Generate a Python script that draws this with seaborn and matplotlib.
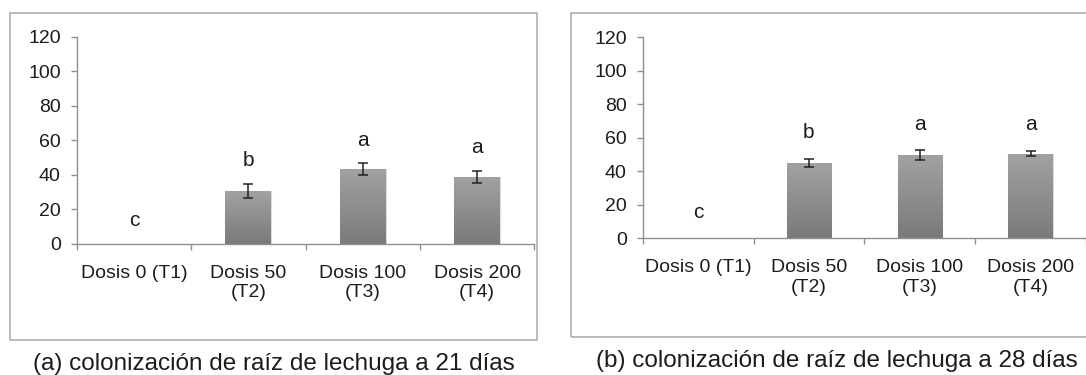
import numpy as np
import pandas as pd
import matplotlib
matplotlib.use("Agg")
import matplotlib.pyplot as plt
from matplotlib.patches import Rectangle
from matplotlib.ticker import FixedLocator, NullFormatter
import seaborn as sns

# Treatments and mean root colonization (%) with standard errors
categories = ["Dosis 0 (T1)", "Dosis 50\n(T2)", "Dosis 100\n(T3)", "Dosis 200\n(T4)"]
colon_21 = [0.0, 30.5, 43.2, 38.8]
err_21 = [0.0, 4.1, 3.5, 3.5]
colon_28 = [0.0, 45.2, 49.7, 50.6]
err_28 = [0.0, 2.4, 2.8, 1.7]
letters_21 = ["c", "b", "a", "a"]
letters_28 = ["c", "b", "a", "a"]
captions = ["(a) colonización de raíz de lechuga a 21 días",
            "(b) colonización de raíz de lechuga a 28 días"]
y_ticks = [0, 20, 40, 60, 80, 100, 120]

sns.set_style("white")
plt.rcParams["font.family"] = ["Liberation Sans", "DejaVu Sans"]

W, H = 1086, 375
fig = plt.figure(figsize=(W / 100, H / 100), dpi=100)
fig.patch.set_facecolor("white")

AXIS_GREY = "#8f8f8f"
TEXT = "#1c1c1c"


def fx(px):
    return px / W


def fy(py):
    return 1 - py / H


def gradient_bars(ax):
    grad = np.linspace(0, 1, 256).reshape(-1, 1)
    cmap = matplotlib.colors.LinearSegmentedColormap.from_list(
        "bar", ["#7a7a7a", "#a2a2a2"])
    xl, yl = ax.get_xlim(), ax.get_ylim()
    for p in list(ax.patches):
        if p.get_height() <= 0:
            continue
        x0, y0 = p.get_x(), p.get_y()
        w, h = p.get_width(), p.get_height()
        im = ax.imshow(grad, extent=(x0, x0 + w, y0, y0 + h), origin="lower",
                       cmap=cmap, aspect="auto", zorder=p.get_zorder() + 0.1,
                       interpolation="bilinear")
        im.set_clip_path(p)
    ax.set_xlim(xl)
    ax.set_ylim(yl)


def panel(rect, values, errs, letters, letter_gap, frame, caption, cap_xy):
    # outer frame around the panel
    fig.patches.append(Rectangle((frame[0], frame[1]), frame[2], frame[3],
                                 transform=fig.transFigure, fill=False,
                                 edgecolor="#a8a8a8", linewidth=1.1,
                                 clip_on=True, zorder=0))
    ax = fig.add_axes(rect)
    df = pd.DataFrame({"tratamiento": categories, "colonizacion": values})
    sns.barplot(data=df, x="tratamiento", y="colonizacion", order=categories,
                color="#8e8e8e", width=0.4, errorbar=None,
                edgecolor="#dcdcdc", linewidth=0.8, ax=ax)
    ax.set_xlim(-0.5, len(categories) - 0.5)
    ax.set_ylim(0, 120)
    gradient_bars(ax)

    idx = [i for i, e in enumerate(errs) if e > 0]
    ax.errorbar([i for i in idx], [values[i] for i in idx],
                yerr=[errs[i] for i in idx], fmt="none", ecolor="#222222",
                elinewidth=1.1, capsize=3.4, capthick=1.1, zorder=5)

    for i, (v, e, lab) in enumerate(zip(values, errs, letters)):
        ax.text(i, v + e + letter_gap, lab, ha="center", va="center",
                fontsize=15, color=TEXT)

    ax.set_xlabel("")
    ax.set_ylabel("")
    ax.set_yticks(y_ticks)
    ax.set_yticklabels([str(t) for t in y_ticks])
    ax.xaxis.set_minor_locator(FixedLocator(np.arange(-0.5, len(categories), 1.0)))
    ax.xaxis.set_minor_formatter(NullFormatter())
    ax.tick_params(axis="x", which="major", length=0, pad=15,
                   labelsize=14, labelcolor=TEXT)
    ax.tick_params(axis="x", which="minor", length=4.5, width=1,
                   color=AXIS_GREY, direction="out", bottom=True)
    ax.tick_params(axis="y", which="major", length=4.5, width=1,
                   color=AXIS_GREY, direction="out", left=True, pad=7,
                   labelsize=14, labelcolor=TEXT)
    for s in ("top", "right"):
        ax.spines[s].set_visible(False)
    for s in ("left", "bottom"):
        ax.spines[s].set_color(AXIS_GREY)
        ax.spines[s].set_linewidth(1.0)
    ax.set_facecolor("none")
    ax.grid(False)

    fig.text(cap_xy[0], cap_xy[1], caption, ha="center", va="center",
             fontsize=17.5, color=TEXT)
    return ax


panel([fx(76.7), fy(244), fx(534.3 - 76.7), (244 - 36.7) / H],
      colon_21, err_21, letters_21, 13.5,
      (fx(10), fy(340), fx(527.3), (340 - 13) / H),
      captions[0], (fx(274), fy(364)))

panel([fx(642.7), fy(238.3), fx(1086 - 642.7), (238.3 - 37.3) / H],
      colon_28, err_28, letters_28, 15.5,
      (fx(571.3), fy(336.7), fx(530), (336.7 - 13) / H),
      captions[1], (fx(837), fy(361)))

fig.savefig("out.png", dpi=100, facecolor="white")
